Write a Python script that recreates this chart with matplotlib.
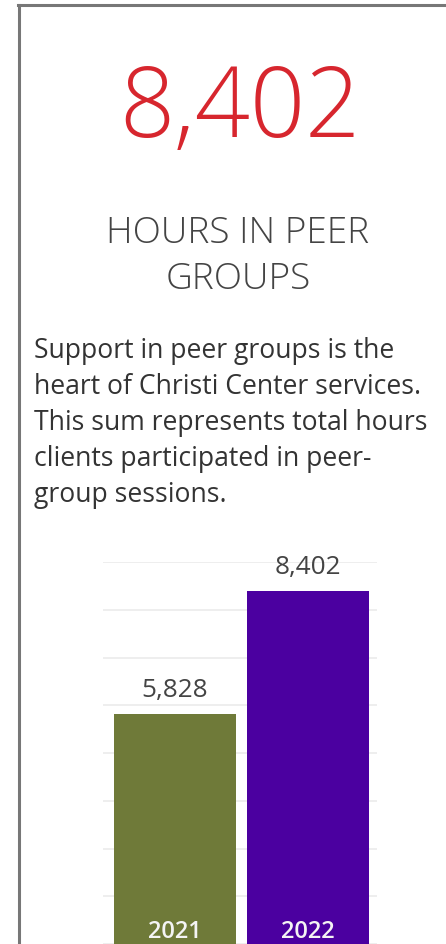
import matplotlib

matplotlib.use("Agg")

import matplotlib.pyplot as plt
import matplotlib.transforms as mtransforms
from matplotlib.lines import Line2D

plt.rcParams["font.family"] = ["Open Sans", "DejaVu Sans"]

# data
years = ["2021", "2022"]
hours = [5828, 8402]
bar_colors = ["#6f7a39", "#4b00a0"]
headline = "8,402"
subtitle_lines = ["HOURS IN PEER", "GROUPS"]
body_lines = [
    "Support in peer groups is the",
    "heart of Christi Center services.",
    "This sum represents total hours",
    "clients participated in peer-",
    "group sessions.",
]
grid_values = list(range(1000, 10000, 1000))

W, H = 446, 945
fig = plt.figure(figsize=(W / 100, H / 100), dpi=100)
fig.patch.set_facecolor("white")


def fy(px):
    return 1 - px / H


def fx(px):
    return px / W


# card border (left + top)
fig.add_artist(Line2D([fx(19), fx(19)], [fy(6), 0], transform=fig.transFigure,
                      color="#777777", linewidth=2.2))
fig.add_artist(Line2D([fx(18), 1], [fy(6), fy(6)], transform=fig.transFigure,
                      color="#777777", linewidth=2.2))

# headline number
fig.text(fx(240), fy(137), headline, ha="center", va="baseline",
         fontsize=69.5, color="#d7262e", fontweight="light")

# subtitle
for i, line in enumerate(subtitle_lines):
    fig.text(fx(238), fy(243 + i * 46), line, ha="center", va="baseline",
             fontsize=26.6, color="#444444", fontweight="light")

# body text
for i, line in enumerate(body_lines):
    fig.text(fx(34), fy(358 + i * 36), line, ha="left", va="baseline",
             fontsize=19.1, color="#333333")

# bar chart: 9000 at y=563px, 0 at y=993px (bottom runs off the card)
top_px, zero_px = 563, 993
ax = fig.add_axes([fx(103), fy(zero_px), fx(377 - 103), (zero_px - top_px) / H])
ax.set_facecolor("none")
x = list(range(len(years)))
ax.bar(x, hours, width=0.917, color=bar_colors, zorder=2)
ax.set_xlim(-0.541, 1.519)
ax.set_ylim(0, 9000)
for v in grid_values:
    ax.axhline(v, color="#ebebeb", linewidth=1.2, zorder=1)
for s in ax.spines.values():
    s.set_visible(False)
ax.set_xticks([])
ax.set_yticks([])

for xi, v in zip(x, hours):
    ax.annotate(f"{v:,}", (xi, v), xytext=(0, 8), textcoords="offset points",
                ha="center", va="bottom", fontsize=18.8, color="#444444")

trans = mtransforms.blended_transform_factory(ax.transData, ax.transAxes)
for xi, yr in zip(x, years):
    ax.text(xi, (zero_px - 938) / (zero_px - top_px), yr, transform=trans,
            ha="center", va="baseline", fontsize=17, color="#f4f4f4",
            fontweight="semibold")

fig.savefig("out.png", dpi=100)
